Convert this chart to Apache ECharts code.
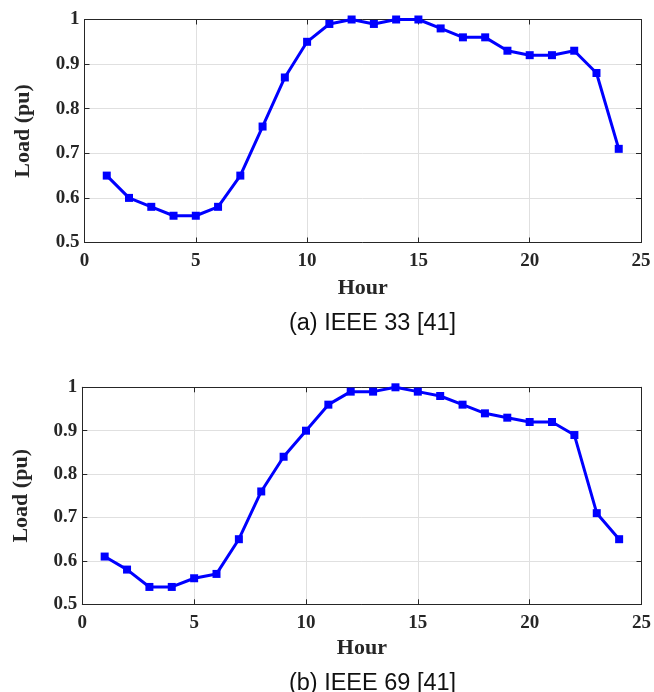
<!DOCTYPE html>
<html><head><meta charset="utf-8">
<script src="https://cdn.jsdelivr.net/npm/echarts@6/dist/echarts.min.js"></script>
<style>html,body{margin:0;padding:0;background:#fff}#c{width:654px;height:692px}</style>
</head><body><div id="c"></div>
<script>
const hours = [1,2,3,4,5,6,7,8,9,10,11,12,13,14,15,16,17,18,19,20,21,22,23,24];
const load33 = [0.65,0.60,0.58,0.56,0.56,0.58,0.65,0.76,0.87,0.95,0.99,1.00,0.99,1.00,1.00,0.98,0.96,0.96,0.93,0.92,0.92,0.93,0.88,0.71];
const load69 = [0.61,0.58,0.54,0.54,0.56,0.57,0.65,0.76,0.84,0.90,0.96,0.99,0.99,1.00,0.99,0.98,0.96,0.94,0.93,0.92,0.92,0.89,0.71,0.65];
const captions = ['(a) IEEE 33 [41]', '(b) IEEE 69 [41]'];
const xTitle = 'Hour';
const yTitle = 'Load (pu)';

const serif = '"Liberation Serif", "Times New Roman", serif';
const sans = '"Liberation Sans", Arial, sans-serif';
const grids = [
  {left: 84.5, top: 19.5, width: 556.5, height: 223},
  {left: 82.3, top: 387.3, width: 561.7, height: 217}
];
const hourGaps = [35, 33];
const xAxes = [], yAxes = [], series = [];
[load33, load69].forEach((vals, i) => {
  const base = {gridIndex: i, type: 'value', min: 0, max: 25, interval: 5};
  xAxes.push(Object.assign({}, base, {
    position: 'bottom',
    name: xTitle, nameLocation: 'middle', nameGap: hourGaps[i],
    nameTextStyle: {fontFamily: serif, fontWeight: 'bold', fontSize: 22, color: '#262626'},
    axisLine: {show: true, onZero: false, lineStyle: {color: '#262626', width: 1}},
    axisTick: {show: true, inside: true, length: 5, lineStyle: {color: '#262626'}},
    axisLabel: {fontFamily: serif, fontWeight: 'bold', fontSize: 19, color: '#262626', margin: 9},
    splitLine: {show: true, lineStyle: {color: '#e0e0e0', width: 1}}
  }));
  xAxes.push(Object.assign({}, base, {
    position: 'top',
    axisLine: {show: true, onZero: false, lineStyle: {color: '#262626', width: 1}},
    axisTick: {show: true, inside: true, length: 5, lineStyle: {color: '#262626'}},
    axisLabel: {show: false}, splitLine: {show: false}
  }));
  const ybase = {gridIndex: i, type: 'value', min: 0.5, max: 1, interval: 0.1};
  yAxes.push(Object.assign({}, ybase, {
    position: 'left',
    name: yTitle, nameLocation: 'middle', nameGap: 50, nameRotate: 90,
    nameTextStyle: {fontFamily: serif, fontWeight: 'bold', fontSize: 22, color: '#262626'},
    axisLine: {show: true, onZero: false, lineStyle: {color: '#262626', width: 1}},
    axisTick: {show: true, inside: true, length: 5, lineStyle: {color: '#262626'}},
    axisLabel: {fontFamily: serif, fontWeight: 'bold', fontSize: 19, color: '#262626', margin: 5,
      formatter: v => (Math.abs(v - 1) < 1e-9 ? '1' : v.toFixed(1))},
    splitLine: {show: true, lineStyle: {color: '#e0e0e0', width: 1}}
  }));
  yAxes.push(Object.assign({}, ybase, {
    position: 'right',
    axisLine: {show: true, onZero: false, lineStyle: {color: '#262626', width: 1}},
    axisTick: {show: true, inside: true, length: 5, lineStyle: {color: '#262626'}},
    axisLabel: {show: false}, splitLine: {show: false}
  }));
  series.push({
    type: 'line', xAxisIndex: i * 2, yAxisIndex: i * 2,
    data: hours.map((h, k) => [h, vals[k]]),
    symbol: 'rect', symbolSize: 8,
    lineStyle: {color: '#0000ff', width: 3},
    itemStyle: {color: '#0000ff'},
    animation: false
  });
});

const chart = echarts.init(document.getElementById('c'), null, {renderer: 'canvas'});
chart.setOption({
  animation: false,
  backgroundColor: '#ffffff',
  grid: grids,
  xAxis: xAxes,
  yAxis: yAxes,
  series: series,
  title: [
    {text: captions[0], left: 367.5, top: 307, textAlign: 'center',
      textStyle: {fontFamily: sans, fontWeight: 'normal', fontSize: 23.5, color: '#111111'}},
    {text: captions[1], left: 367.5, top: 667, textAlign: 'center',
      textStyle: {fontFamily: sans, fontWeight: 'normal', fontSize: 23.5, color: '#111111'}}
  ]
});
</script></body></html>
